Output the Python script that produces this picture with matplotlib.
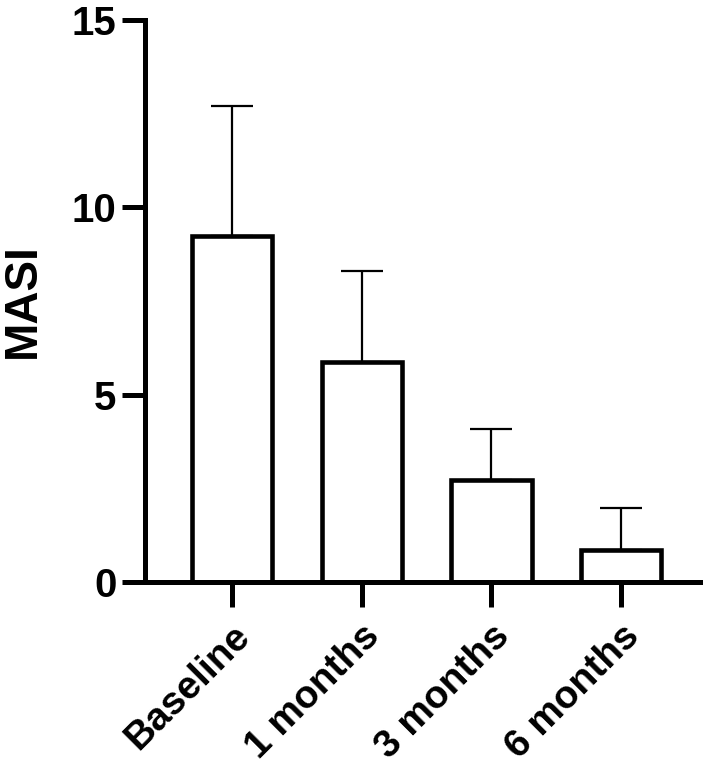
import numpy as np
import matplotlib.pyplot as plt

# values
groups = ['Baseline', '1 months', '3 months', '6 months']
means = [9.25, 5.88, 2.73, 0.86]
sds = [3.45, 2.43, 1.36, 1.12]
yticks = [0, 5, 10, 15]

plt.rcParams['font.family'] = ['Liberation Sans', 'DejaVu Sans']
plt.rcParams['font.weight'] = 'bold'

fig = plt.figure(figsize=(7.12, 7.76), dpi=100)
ax = fig.add_axes([0.2037, 0.25, 0.78, 0.724])

x = np.arange(len(groups))
ax.bar(x, means, width=0.62, color='white', edgecolor='black', linewidth=3.3, zorder=2)
ax.errorbar(x, means, yerr=[np.zeros(len(sds)), sds], fmt='none', ecolor='black',
            elinewidth=1.6, capsize=15, capthick=1.6, zorder=1)

ax.set_xlim(-0.67, 3.61)
ax.set_ylim(0, 15)
ax.set_yticks(yticks)
ax.set_xticks(x)
ax.set_xticklabels(groups, rotation=45, ha='right', rotation_mode='anchor', fontsize=28)
ax.tick_params(axis='y', labelsize=29, length=16.5, width=3.6, pad=4)
ax.tick_params(axis='x', length=18, width=3.6, pad=8)
ax.set_ylabel('MASI', fontsize=33, fontweight='bold')
ax.yaxis.set_label_coords(-0.18, 0.5)

for s in ['top', 'right']:
    ax.spines[s].set_visible(False)
for s in ['left', 'bottom']:
    ax.spines[s].set_linewidth(3.6)

fig.savefig('out.png', dpi=100)
